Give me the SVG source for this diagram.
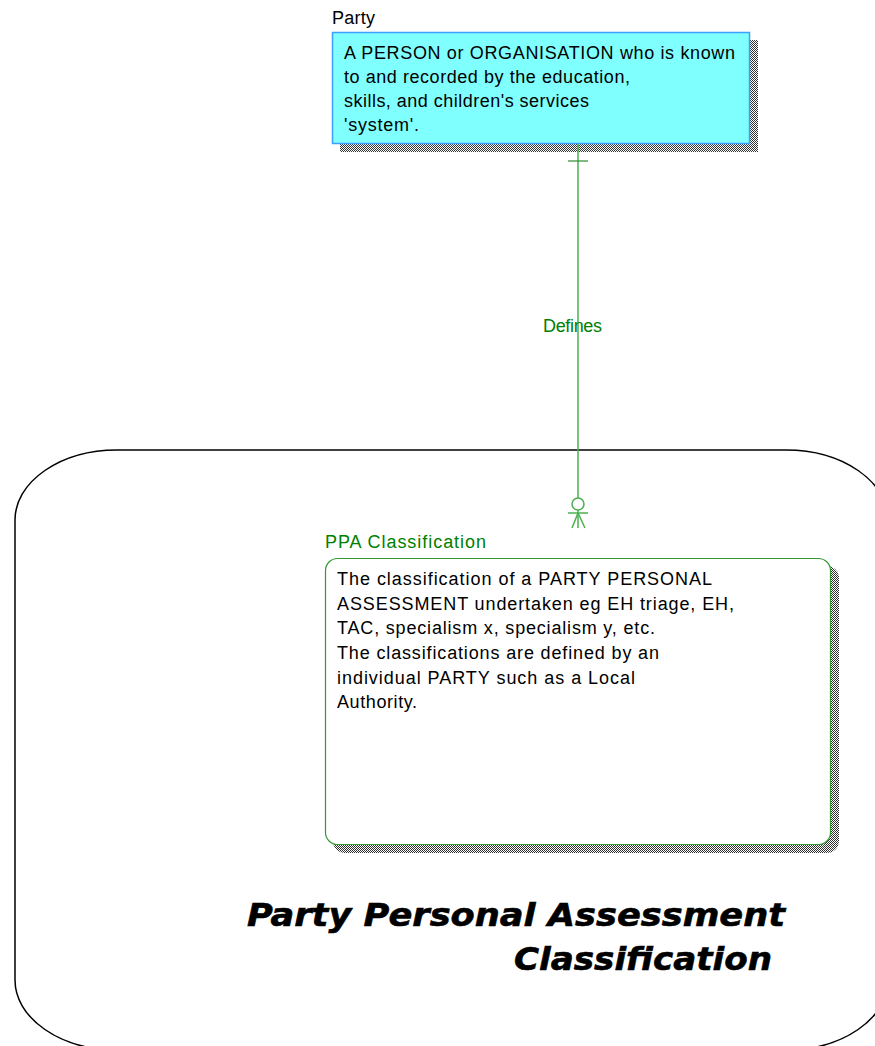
<svg xmlns="http://www.w3.org/2000/svg" width="875" height="1046" viewBox="0 0 875 1046">
<defs>
<pattern id="chk" width="2" height="2" patternUnits="userSpaceOnUse">
<rect width="2" height="2" fill="#ffffff"/>
<rect width="1" height="1" fill="#333333"/>
<rect x="1" y="1" width="1" height="1" fill="#333333"/>
</pattern>
<style>
.t{font-family:"Liberation Sans",Arial,sans-serif;font-size:18px;fill:#000}
.g{font-family:"Liberation Sans",Arial,sans-serif;font-size:18px;fill:#008000}
.title{font-family:"DejaVu Sans",Verdana,sans-serif;font-size:32px;font-weight:bold;font-style:italic;fill:#000;stroke:#000;stroke-width:0.6}
.rel{stroke:#4caf50;stroke-width:1.5;fill:none}
</style>
</defs>
<rect width="875" height="1046" fill="#ffffff"/>
<g id="subject-area">
<rect x="15" y="450" width="873" height="600" rx="102" ry="70" fill="none" stroke="#000" stroke-width="1.5"/>
<text class="title" x="247" y="926" textLength="538" lengthAdjust="spacingAndGlyphs">Party Personal Assessment</text>
<text class="title" x="514" y="970" textLength="258" lengthAdjust="spacingAndGlyphs">Classification</text>
</g>
<g id="party">
<rect x="340" y="40" width="418" height="112" fill="url(#chk)"/>
<rect x="332.5" y="32.5" width="417" height="111" fill="#80ffff" stroke="#3d9eff" stroke-width="1.5"/>
<text class="t" x="332" y="24" textLength="43">Party</text>
<text class="t" x="344" y="59" textLength="391">A PERSON or ORGANISATION who is known</text>
<text class="t" x="344" y="83" textLength="286">to and recorded by the education,</text>
<text class="t" x="344" y="107" textLength="245">skills, and children's services</text>
<text class="t" x="344" y="131" textLength="75">'system'.</text>
</g>
<g id="ppa-classification">
<rect x="333" y="566" width="506" height="287" rx="12" ry="12" fill="url(#chk)"/>
<rect x="325.5" y="558.5" width="505" height="286" rx="12" ry="12" fill="#ffffff" stroke="#339933" stroke-width="1.2"/>
<text class="g" x="325" y="548" textLength="161">PPA Classification</text>
<text class="t" x="337" y="585" textLength="375">The classification of a PARTY PERSONAL</text>
<text class="t" x="337" y="610" textLength="397">ASSESSMENT undertaken eg EH triage, EH,</text>
<text class="t" x="337" y="634" textLength="318">TAC, specialism x, specialism y, etc.</text>
<text class="t" x="337" y="659" textLength="322">The classifications are defined by an</text>
<text class="t" x="337" y="684" textLength="298">individual PARTY such as a Local</text>
<text class="t" x="337" y="708" textLength="80">Authority.</text>
</g>
<g id="connectors">
<line class="rel" x1="578" y1="144" x2="578" y2="498"/>
<line x1="568" y1="161" x2="588" y2="161" stroke="#2e8b2e" stroke-width="1.2"/>
<circle class="rel" cx="578" cy="504" r="6"/>
<line class="rel" x1="578" y1="510" x2="578" y2="528"/>
<line class="rel" x1="568" y1="513" x2="588" y2="513"/>
<line class="rel" x1="578" y1="513" x2="572" y2="528"/>
<line class="rel" x1="578" y1="513" x2="585" y2="528"/>
<text class="g" x="543" y="332" textLength="59">Defines</text>
</g>
</svg>
